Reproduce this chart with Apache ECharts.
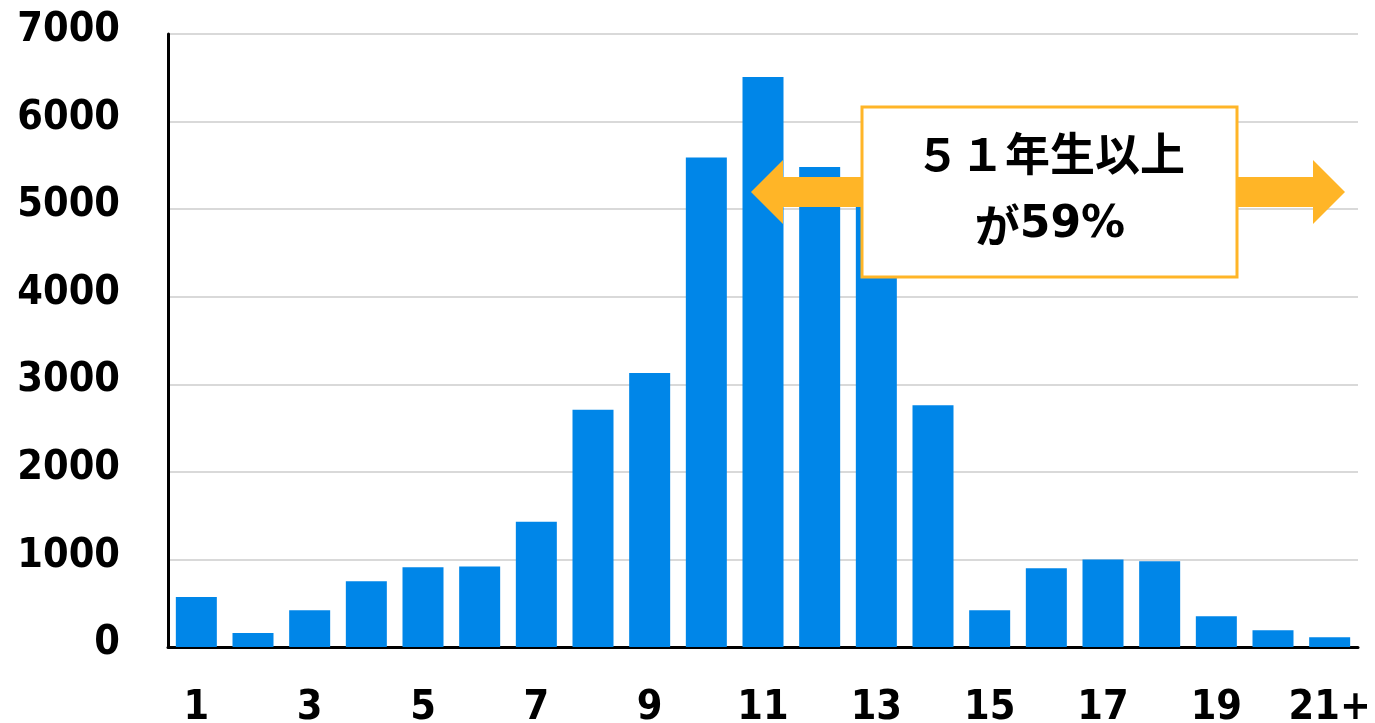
<!DOCTYPE html>
<html>
<head>
<meta charset="utf-8">
<script src="https://cdn.jsdelivr.net/npm/echarts@6/dist/echarts.min.js"></script>
<style>
  html, body { margin: 0; padding: 0; background: #fff; }
  #main { width: 1375px; height: 723px; }
</style>
</head>
<body>
<div id="main"></div>
<script>
// categories (years), bar values
var categories = ["1", "2", "3", "4", "5", "6", "7", "8", "9", "10", "11",
                  "12", "13", "14", "15", "16", "17", "18", "19", "20", "21+"];
var counts = [570, 160, 420, 750, 910, 920, 1430, 2710, 3130, 5590, 6510,
              5480, 5200, 2760, 420, 900, 1000, 980, 350, 190, 110];
var noteTop = "５１年生以上";
var noteKana = "が";
var notePct = "59%";

var numFont = "'DejaVu Sans Condensed', 'DejaVu Sans', sans-serif";
var jpFont = "'Noto Sans CJK JP', sans-serif";
var orange = "#ffb527";

var chart = echarts.init(document.getElementById("main"));
chart.setOption({
    animation: false,
    grid: { left: 168, right: 17, top: 34, bottom: 76, outerBoundsMode: "none" },
    xAxis: {
        type: "category",
        data: categories,
        axisLine: { lineStyle: { color: "#000", width: 3 } },
        axisTick: { show: false },
        axisLabel: {
            interval: 1,
            margin: 41,
            color: "#000",
            fontFamily: numFont,
            fontWeight: "bold",
            fontSize: 41
        }
    },
    yAxis: {
        type: "value",
        min: 0,
        max: 7000,
        interval: 1000,
        axisLine: { show: true, lineStyle: { color: "#000", width: 3 } },
        axisTick: { show: false },
        splitLine: { lineStyle: { color: "#d9d9d9", width: 2 } },
        axisLabel: {
            margin: 48,
            color: "#000",
            fontFamily: numFont,
            fontWeight: "bold",
            fontSize: 41,
            verticalAlign: "bottom",
            lineHeight: 7,
            formatter: function (v) { return String(v); }
        }
    },
    series: [{
        type: "bar",
        data: counts,
        barWidth: 41,
        itemStyle: { color: "#0086e8" },
        z: 2
    }],
    graphic: [
        {
            type: "polygon",
            z: 10,
            shape: {
                points: [[751, 192], [783, 160], [783, 177], [1313, 177], [1313, 160],
                         [1345, 192], [1313, 224], [1313, 207], [783, 207], [783, 224]]
            },
            style: { fill: orange }
        },
        {
            type: "rect",
            z: 11,
            shape: { x: 862, y: 107, width: 375, height: 170 },
            style: { fill: "#fff", stroke: orange, lineWidth: 3 }
        },
        {
            type: "text",
            z: 12,
            x: 1050,
            y: 154,
            style: {
                text: noteTop,
                fill: "#000",
                font: "bold 45px " + jpFont,
                align: "center",
                verticalAlign: "middle"
            }
        },
        {
            type: "text",
            z: 12,
            x: 1050,
            y: 226,
            style: {
                text: "{k|" + noteKana + "}{p|" + notePct + "}",
                align: "center",
                verticalAlign: "middle",
                rich: {
                    k: { fill: "#000", font: "bold 45px " + jpFont },
                    p: { fill: "#000", font: "bold 44px 'DejaVu Sans', sans-serif" }
                }
            }
        }
    ]
});
</script>
</body>
</html>
